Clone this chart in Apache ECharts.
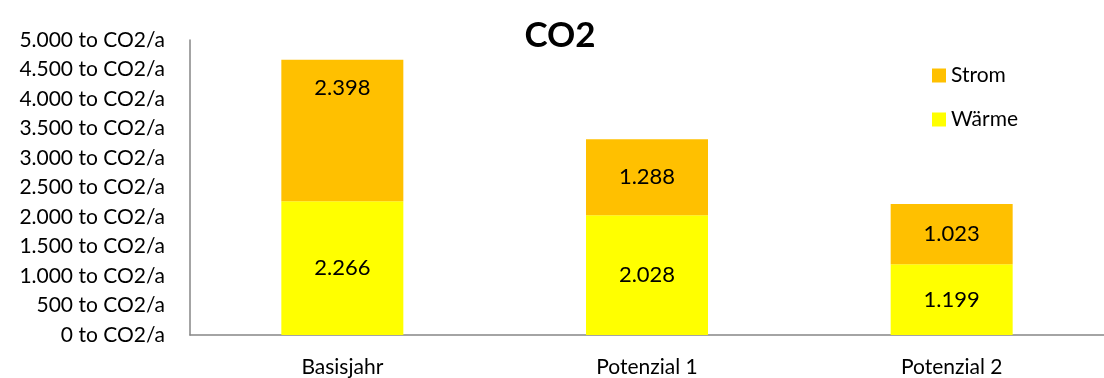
<!DOCTYPE html>
<html><head><meta charset="utf-8">
<script src="https://cdn.jsdelivr.net/npm/echarts@6/dist/echarts.min.js"></script>
<style>html,body{margin:0;padding:0;background:#fff}#c{width:1104px;height:378px}</style>
</head><body><div id="c"></div>
<script>
var categories = ['Basisjahr', 'Potenzial 1', 'Potenzial 2'];
var waerme = [2266, 2028, 1199];
var strom = [2398, 1288, 1023];
var yTicks = [0, 500, 1000, 1500, 2000, 2500, 3000, 3500, 4000, 4500, 5000];

function fmt(v) { return String(v).replace(/\B(?=(\d{3})+(?!\d))/g, '.'); }
var font = 'Lato, "Open Sans", sans-serif';
var labelBase = { show: true, position: 'inside', fontFamily: font, fontSize: 22, color: '#000',
  formatter: function (p) { return fmt(p.value); } };
var stromData = strom.map(function (v, i) {
  return i === 0 ? { value: v, label: { offset: [0, -43] } } : v;
});
var chart = echarts.init(document.getElementById('c'));
chart.setOption({
  animation: false,
  title: { text: 'CO2', left: 555, top: 13, textAlign: 'center',
    textStyle: { fontFamily: font, fontSize: 35, fontWeight: 'bold', color: '#000' } },
  legend: { orient: 'vertical', left: 927, top: 60, itemWidth: 14, itemHeight: 14, itemGap: 23,
    data: ['Strom', 'Wärme'], icon: 'rect',
    textStyle: { fontFamily: font, fontSize: 21, color: '#000' } },
  grid: { left: 190, top: 40, width: 930, height: 295, containLabel: false },
  xAxis: { type: 'category', data: categories,
    axisLine: { lineStyle: { color: '#868686', width: 1.5 } },
    axisTick: { show: false },
    axisLabel: { fontFamily: font, fontSize: 21, color: '#000', margin: 22 } },
  yAxis: { type: 'value', min: yTicks[0], max: yTicks[yTicks.length - 1], interval: 500,
    axisLine: { show: true, lineStyle: { color: '#868686', width: 1.5 } },
    axisTick: { show: false }, splitLine: { show: false },
    axisLabel: { fontFamily: font, fontSize: 21, color: '#000', margin: 25,
      formatter: function (v) { return fmt(v) + ' to CO2/a'; } } },
  series: [
    { name: 'Wärme', type: 'bar', stack: 's', data: waerme, barWidth: 122,
      itemStyle: { color: '#FFFF00' }, label: labelBase },
    { name: 'Strom', type: 'bar', stack: 's', data: stromData, barWidth: 122,
      itemStyle: { color: '#FFC000' }, label: labelBase }
  ]
});
</script></body></html>
